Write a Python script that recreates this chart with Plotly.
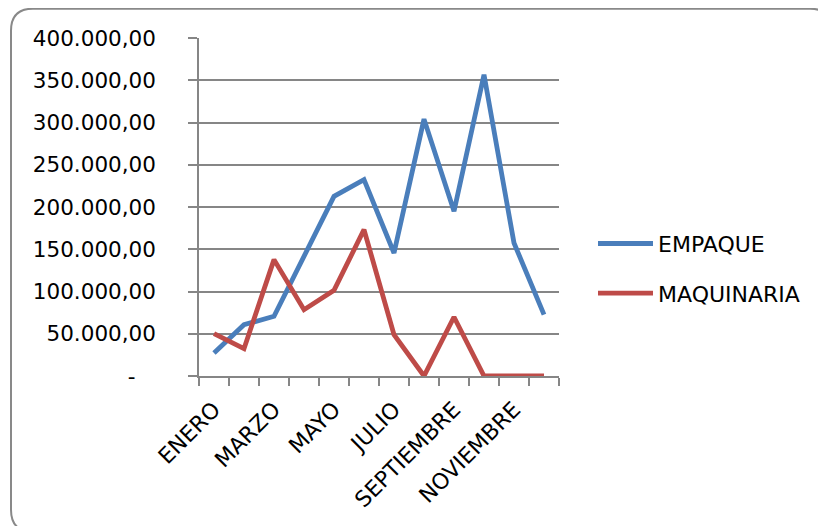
import plotly.graph_objects as go

meses = ["ENERO", "FEBRERO", "MARZO", "ABRIL", "MAYO", "JUNIO", "JULIO",
         "AGOSTO", "SEPTIEMBRE", "OCTUBRE", "NOVIEMBRE", "DICIEMBRE"]
empaque = [27200, 60700, 70600, 142000, 212600, 232300, 145600,
           304000, 194900, 356600, 157400, 72600]
maquinaria = [50100, 32300, 137700, 78500, 101400, 173200, 48900,
              0, 69800, 0, 0, 0]
y_ticks = [0, 50000, 100000, 150000, 200000, 250000, 300000, 350000, 400000]
y_labels = ["-\u00a0\u00a0\u00a0", "50.000,00", "100.000,00", "150.000,00", "200.000,00",
            "250.000,00", "300.000,00", "350.000,00", "400.000,00"]
x_labels = [m if i % 2 == 0 else "" for i, m in enumerate(meses)]

FONT = "DejaVu Sans"
OFF = 8  # page body margin
W, H = 826, 526
L, R, T, B = 199 - OFF, 559 - OFF, 38.3 - OFF, 376.3 - OFF

fig = go.Figure()
fig.add_trace(go.Scatter(x=meses, y=empaque, name="EMPAQUE", mode="lines",
                         line=dict(color="#4A7EBB", width=4.8), legendgroup="a"))
fig.add_trace(go.Scatter(x=meses, y=maquinaria, name="MAQUINARIA", mode="lines",
                         line=dict(color="#BE4B48", width=4.8), legendgroup="b"))

def px(xp):
    return (xp - OFF - L) / (R - L)

def py(yp):
    return (B - (yp - OFF)) / (B - T)

x0, y0, x1, y1, r = 11, 9, 832, 532, 22
path = (f"M {px(x0)},{py(y0 + r)} Q {px(x0)},{py(y0)} {px(x0 + r)},{py(y0)} "
        f"L {px(x1 - r)},{py(y0)} Q {px(x1)},{py(y0)} {px(x1)},{py(y0 + r)} "
        f"L {px(x1)},{py(y1 - r)} Q {px(x1)},{py(y1)} {px(x1 - r)},{py(y1)} "
        f"L {px(x0 + r)},{py(y1)} Q {px(x0)},{py(y1)} {px(x0)},{py(y1 - r)} Z")
fig.add_shape(type="path", path=path, xref="paper", yref="paper",
              line=dict(color="#898989", width=2), layer="below")

fig.update_layout(
    width=W, height=H,
    margin=dict(l=L, r=W - R, t=T, b=H - B, pad=0),
    paper_bgcolor="white", plot_bgcolor="white",
    font=dict(family=FONT, size=21.5, color="black"),
    showlegend=True,
    legend=dict(x=px(593), y=py(223), xanchor="left", yanchor="top",
                font=dict(size=22), traceorder="grouped", tracegroupgap=18,
                itemwidth=55, bgcolor="rgba(0,0,0,0)"),
    xaxis=dict(type="category", categoryorder="array", categoryarray=meses,
               tickvals=meses, ticktext=x_labels, tickangle=-45,
               tickfont=dict(size=22),
               tickson="boundaries", ticks="outside", ticklen=8, tickwidth=1.5,
               tickcolor="#868686", showgrid=False, showline=True,
               linecolor="#868686", linewidth=1.5, range=[-0.5, 11.5],
               zeroline=False, ticklabelstandoff=10),
    yaxis=dict(range=[0, 400000], tickvals=y_ticks, ticktext=y_labels,
               ticks="outside", ticklen=9, tickwidth=1.5, tickcolor="#868686",
               showgrid=True, gridcolor="#868686", gridwidth=1.5,
               showline=True, linecolor="#868686", linewidth=1.5,
               zeroline=False, ticklabelstandoff=28),
)

fig.write_html("out.html")
